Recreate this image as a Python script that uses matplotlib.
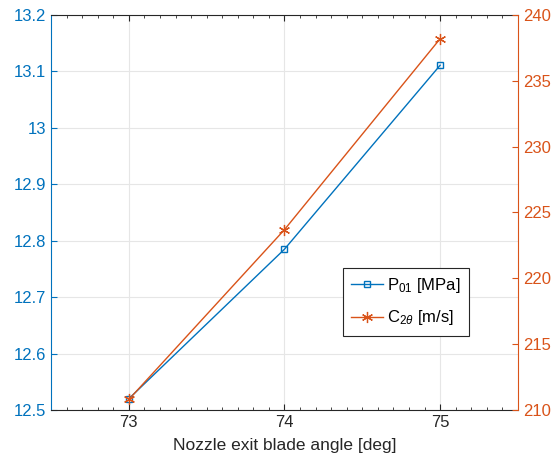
import matplotlib
matplotlib.use("Agg")
import matplotlib.pyplot as plt
from matplotlib.ticker import MultipleLocator

plt.rcParams['font.family'] = ['Liberation Sans', 'DejaVu Sans']
plt.rcParams['mathtext.fontset'] = 'custom'
plt.rcParams['mathtext.rm'] = 'Liberation Sans'
plt.rcParams['mathtext.it'] = 'Liberation Sans:italic'

angle = [73, 74, 75]
p01 = [12.52, 12.785, 13.111]
c2theta = [210.8, 223.7, 238.2]
xticks = [73, 74, 75]
left_ticks = [12.5, 12.6, 12.7, 12.8, 12.9, 13.0, 13.1, 13.2]
left_labels = ['12.5', '12.6', '12.7', '12.8', '12.9', '13', '13.1', '13.2']
right_ticks = [210, 215, 220, 225, 230, 235, 240]

blue = '#0072BD'
orange = '#D95319'

fig = plt.figure(figsize=(5.58, 4.73), dpi=100)
ax = fig.add_axes([0.0914, 0.1332, 0.8369, 0.8351])
ax2 = ax.twinx()

l1, = ax.plot(angle, p01, color=blue, marker='s', markersize=5, markerfacecolor='none',
              markeredgewidth=1.0, linewidth=1.0, label=r'P$_{01}$ [MPa]')
l2, = ax2.plot(angle, c2theta, color=orange, marker=(6, 2, 0), markersize=8,
               markeredgewidth=0.9, linewidth=1.0, label=r'C$_{2\theta}$ [m/s]')

ax.set_xlim(72.5, 75.5)
ax.set_ylim(12.5, 13.2)
ax2.set_ylim(210, 240)
ax.set_xticks(xticks)
ax.xaxis.set_minor_locator(MultipleLocator(0.1))
ax.set_yticks(left_ticks)
ax.set_yticklabels(left_labels)
ax2.set_yticks(right_ticks)

ax.grid(True, which='major', color='#e6e6e6', linewidth=0.8)
ax.set_axisbelow(True)

ax.tick_params(axis='x', direction='in', top=True, which='both', labelsize=12,
               colors='#262626', length=4)
ax.tick_params(axis='x', which='minor', length=2.5)
ax.tick_params(axis='y', direction='in', labelsize=12, colors=blue, length=4)
ax2.tick_params(axis='y', direction='in', labelsize=12, colors=orange, length=4)

ax.spines['left'].set_color(blue)
ax.spines['top'].set_color('#262626')
ax.spines['bottom'].set_color('#262626')
ax.spines['right'].set_visible(False)
ax2.spines['left'].set_visible(False)
ax2.spines['top'].set_visible(False)
ax2.spines['bottom'].set_visible(False)
ax2.spines['right'].set_color(orange)
for s in ax.spines.values():
    s.set_linewidth(0.8)
ax2.spines['right'].set_linewidth(0.8)

ax.set_xlabel('Nozzle exit blade angle [deg]', fontsize=12.5, color='#262626', labelpad=6)

leg = ax2.legend(handles=[l1, l2], loc='upper left',
                 bbox_to_anchor=(0.625, 0.36), borderaxespad=0, fontsize=12, frameon=True,
                 fancybox=False, edgecolor='#262626', framealpha=1,
                 handlelength=1.9, handletextpad=0.25, borderpad=0.5, labelspacing=0.8)
leg.get_frame().set_linewidth(0.8)

fig.savefig('out.png', dpi=100)
